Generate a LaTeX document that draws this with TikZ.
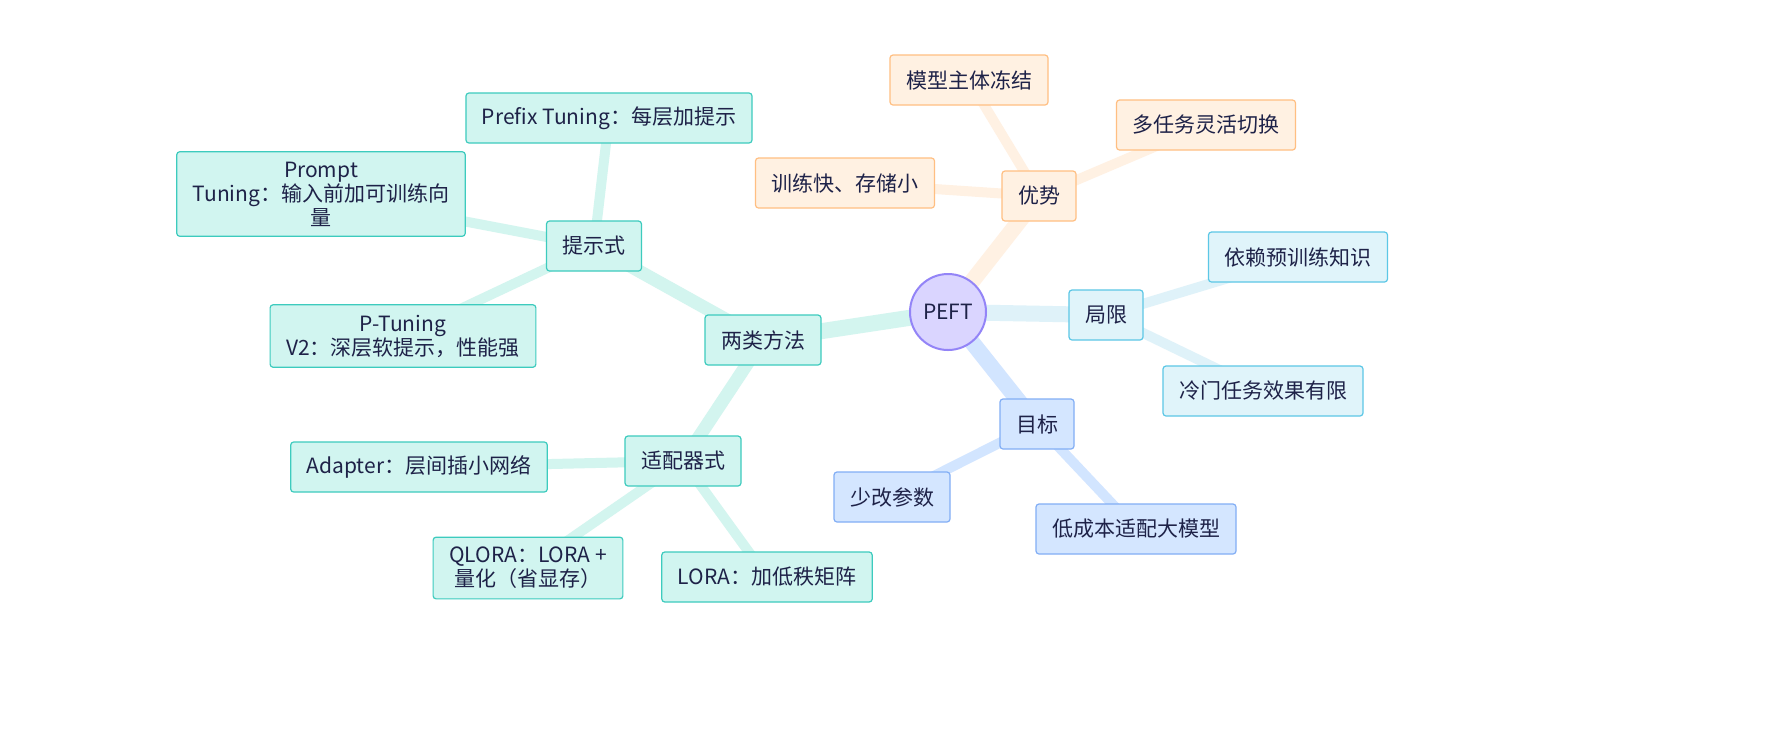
\documentclass[tikz,border=0pt]{standalone}
\usepackage{fontspec}
\setmainfont{Noto Sans CJK SC}
\usetikzlibrary{backgrounds,shapes.geometric}

\definecolor{inktext}{HTML}{1E2248}
\definecolor{rootfill}{HTML}{DAD5FF}
\definecolor{rootline}{HTML}{9384F7}
\definecolor{tealfill}{HTML}{D1F5F0}
\definecolor{tealline}{HTML}{3DCBBE}
\definecolor{tealedge}{HTML}{D3F5EF}
\definecolor{orangefill}{HTML}{FFF1E2}
\definecolor{orangeline}{HTML}{FFBF82}
\definecolor{orangeedge}{HTML}{FFF1E3}
\definecolor{cyanfill}{HTML}{E0F4FA}
\definecolor{cyanline}{HTML}{5CC7E6}
\definecolor{cyanedge}{HTML}{DFF2F9}
\definecolor{bluefill}{HTML}{D4E6FF}
\definecolor{blueline}{HTML}{82AEF5}
\definecolor{blueedge}{HTML}{D2E5FF}

\begin{document}
\begin{tikzpicture}[x=0.5pt, y=-0.5pt,
    every node/.style={font=\fontsize{10.5}{12}\selectfont, text=inktext},
    box/.style={draw, rounded corners=1.5pt, line width=0.6pt, inner xsep=8pt, inner ysep=5pt, minimum height=25pt, align=center},
    tealbox/.style={box, fill=tealfill, draw=tealline},
    orangebox/.style={box, fill=orangefill, draw=orangeline},
    cyanbox/.style={box, fill=cyanfill, draw=cyanline},
    bluebox/.style={box, fill=bluefill, draw=blueline},
    trunk/.style={line width=8pt},
    branch/.style={line width=6.5pt},
    twig/.style={line width=5pt}]

    % Root
    \node[ellipse, draw=rootline, fill=rootfill, line width=1pt, minimum size=38pt, inner sep=0pt] (peft) at (948,312) {PEFT};

    % Methods
    \node[tealbox] (methods) at (763,340) {两类方法};
    \node[tealbox] (prompt) at (594,246) {提示式};
    \node[tealbox] (prefix) at (609,118) {Prefix Tuning：每层加提示};
    \node[tealbox] (ptuning) at (321,194) {Prompt\\Tuning：输入前加可训练向\\量};
    \node[tealbox] (ptv2) at (403,336) {P-Tuning\\V2：深层软提示，性能强};
    \node[tealbox] (adapter) at (683,461) {适配器式};
    \node[tealbox] (adapternet) at (419,467) {Adapter：层间插小网络};
    \node[tealbox] (qlora) at (528,568) {QLORA：LORA +\\量化（省显存）};
    \node[tealbox] (lora) at (767,577) {LORA：加低秩矩阵};

    % Strengths
    \node[orangebox] (pros) at (1039,196) {优势};
    \node[orangebox] (frozen) at (969,80) {模型主体冻结};
    \node[orangebox] (switch) at (1206,125) {多任务灵活切换};
    \node[orangebox] (cheap) at (845,183) {训练快、存储小};

    % Limits
    \node[cyanbox] (limits) at (1106,315) {局限};
    \node[cyanbox] (prior) at (1298,257) {依赖预训练知识};
    \node[cyanbox] (rare) at (1263,391) {冷门任务效果有限};

    % Goals
    \node[bluebox] (goal) at (1037,424) {目标};
    \node[bluebox] (fewer) at (892,497) {少改参数};
    \node[bluebox] (lowcost) at (1136,529) {低成本适配大模型};

    % Edges
    \begin{pgfonlayer}{background}
        \fill[white] (0,0) rectangle (1784,752);
        \draw[tealedge, trunk] (peft.center) -- (methods.center);
        \draw[tealedge, branch] (methods.center) -- (prompt.center);
        \draw[tealedge, branch] (methods.center) -- (adapter.center);
        \draw[tealedge, twig] (prompt.center) -- (prefix.center);
        \draw[tealedge, twig] (prompt.center) -- (ptuning.center);
        \draw[tealedge, twig] (prompt.center) -- (ptv2.center);
        \draw[tealedge, twig] (adapter.center) -- (adapternet.center);
        \draw[tealedge, twig] (adapter.center) -- (qlora.center);
        \draw[tealedge, twig] (adapter.center) -- (lora.center);
        \draw[orangeedge, trunk] (peft.center) -- (pros.center);
        \draw[orangeedge, twig] (pros.center) -- (frozen.center);
        \draw[orangeedge, twig] (pros.center) -- (switch.center);
        \draw[orangeedge, twig] (pros.center) -- (cheap.center);
        \draw[cyanedge, trunk] (peft.center) -- (limits.center);
        \draw[cyanedge, twig] (limits.center) -- (prior.center);
        \draw[cyanedge, twig] (limits.center) -- (rare.center);
        \draw[blueedge, trunk] (peft.center) -- (goal.center);
        \draw[blueedge, twig] (goal.center) -- (fewer.center);
        \draw[blueedge, twig] (goal.center) -- (lowcost.center);
    \end{pgfonlayer}
\end{tikzpicture}
\end{document}
